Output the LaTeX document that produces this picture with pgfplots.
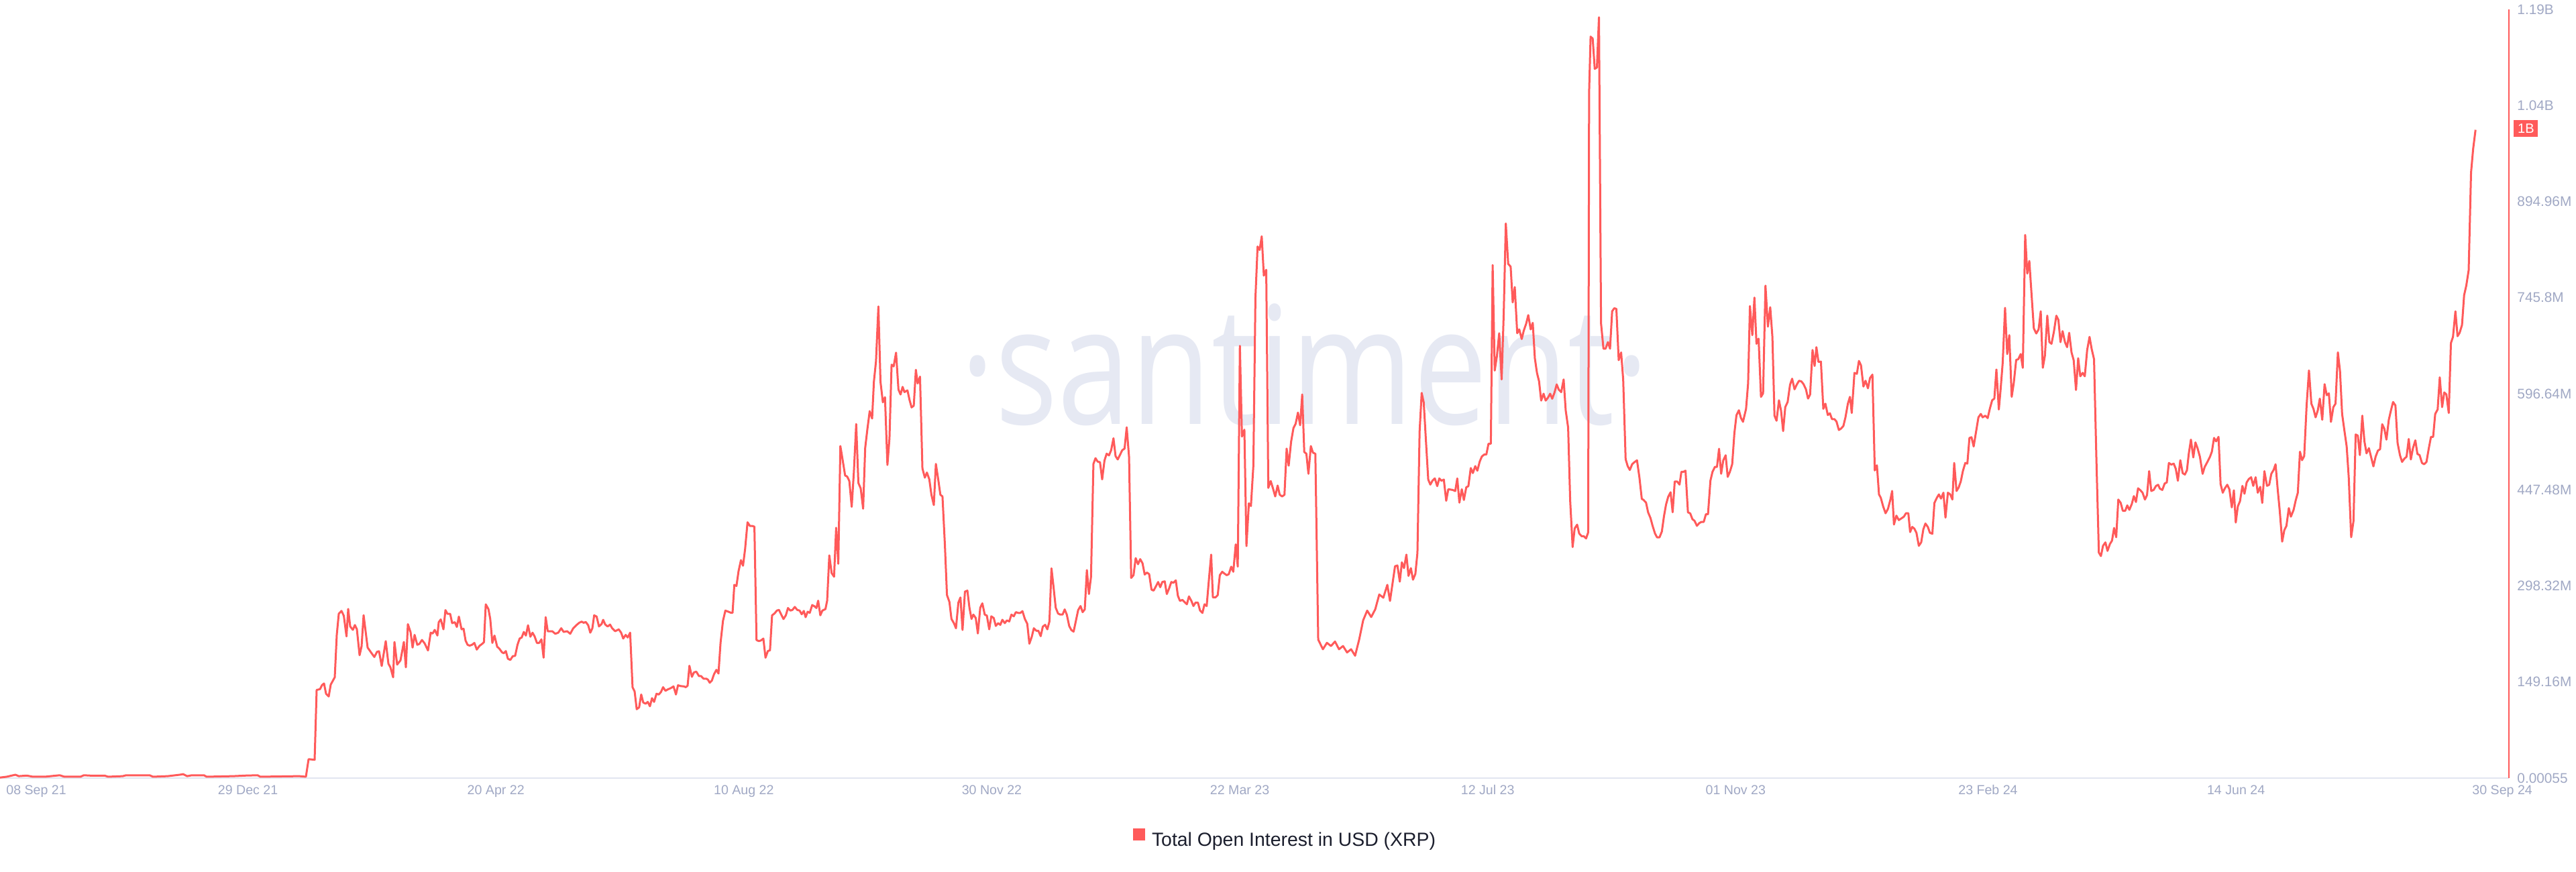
\documentclass[border=0pt]{standalone}
\usepackage{pgfplots}
\pgfplotsset{compat=1.18}
\usepackage{pgfplotstable}
\usepackage{fontspec}
\setmainfont{Liberation Sans}
\newfontfamily\wmfont{Open Sans}

\definecolor{oiRed}{HTML}{FF5A5A}
\definecolor{tickGray}{HTML}{A0A8C4}
\definecolor{baseGray}{HTML}{E1E5F0}
\definecolor{wmGray}{HTML}{E6E9F3}
\definecolor{legendText}{HTML}{1B1E2D}

% x = position along the time axis (3.3 per day from 08 Sep 21), y = open interest in M USD
\pgfplotstableread{
x y
0 0.8
10 2.1
23 5.2
28 3
40 3.9
49 2.1
67 2.1
89 4.4
96 2.1
120 2.1
125 4.4
134 3.9
156 3.9
161 2.1
183 3
188 4.4
223 4.4
228 2.1
250 3
268 5.2
273 6.1
279 3
286 4.4
304 4.4
308 2.1
348 3
366 3.9
384 4.4
388 2.1
446 3
456 2.1
460 29.4
469 28.4
472 136.8
477 138.1
480 144.3
483 146.9
486 131
490 126.7
493 145.1
499 156.5
502 222.3
505 255
509 259.5
512.5 252
516.5 220
519 262.6
522 235.4
526 230.1
529 237.6
532 231
536 190.7
539 204.7
542 252.9
548 202.6
554 193.7
558 188
562 196
565 196.9
569 174
575 212.6
579 177.5
582 171.9
586 156.5
588 211.3
592 176.2
597 182.8
602 211.3
605 171.9
608 238.9
612 226.6
615 202.6
618 222.3
622 206.9
625 208.2
629 214.4
633 209.1
638 198.1
642 225.7
645 224.5
648 230.1
652 221.3
654 242
657 246.3
661 231
664 260.8
667 255
671 255
674 240.6
678 242
681 234.6
684 250.7
688 231
691 231.9
694 213.5
697 206.9
700 205.6
703.6 206.9
707.1 209.8
710.7 199.5
714.7 205.2
718.3 208
721.4 210.9
724.1 269.7
728.1 262.3
730.8 246.9
733.9 209.8
737.1 221.2
741.1 204
744.2 201.1
748.2 195.4
750.9 193.7
754 197.2
757.1 185.2
760.7 183.4
764.3 189.2
767.9 189.8
771.4 206.9
774.6 216.6
777.7 218.3
780.8 226.9
783.9 221.2
787.1 237.2
790.6 219.5
793.8 225.7
796.9 220
800.4 209.8
803.6 209.8
807.1 215.4
810.3 186.9
813.4 249.8
816.5 228
823.2 228
827.7 224
832.1 225.7
836.6 232.6
840.2 226.9
845.5 228
850 224
854.5 232.6
858.9 237.2
863.4 241.1
867 242.9
870.1 241.1
873.2 242.3
876.8 237.2
879.9 225.7
883 232.6
885.7 252.7
889.3 250.8
892.9 235.4
896.9 239.5
899.1 245.7
902.2 238.3
905.8 235.4
909.4 238.3
912.5 232.6
917 228
922.3 230.9
925.9 225.7
929 216.6
932.6 222.3
935.7 218.3
939.3 225.7
942.9 141.1
946 134.4
949.1 106.9
952.7 109.8
955.8 129.8
958.9 117.2
962.5 115.5
965.6 118.3
968.8 111.5
971.9 124.1
975 118.3
978.6 130.9
982.1 129.8
985.3 133.7
988.4 141.1
992 135.5
995.5 137.7
999.6 139.5
1004 142.3
1007.6 129.8
1010.7 144.1
1014.3 142.9
1019.6 142.3
1022.3 141.1
1025 143.5
1027.7 174.3
1031.3 157.2
1034.4 164
1037.9 165.2
1042 158.3
1045.1 158.3
1048.7 154.3
1053.1 154.3
1055.4 152.6
1058 148
1061.2 151.4
1064.3 161.1
1067.9 168
1071 162.3
1074.1 209.8
1077.7 244
1081.3 260
1085.7 258.3
1089.7 256.6
1092 256.6
1094.6 300
1097.8 298.3
1100.9 321.1
1104.5 338.3
1107.6 329.7
1110.7 355.4
1114.3 397.1
1117.9 391.4
1121.4 391.4
1124.6 390.3
1127.7 214.3
1131.3 212.6
1134.4 213.7
1137.9 216.6
1141.1 186.9
1144.6 197.2
1147.8 198.3
1150.9 252.7
1154.5 255.5
1158 260
1161.2 261.1
1164.3 254.3
1167.9 246.9
1171.4 252.7
1174.6 264
1178.1 260
1181.3 261.1
1184.8 265.7
1188.4 261.1
1192 260
1195.1 254.3
1198.2 259.5
1200.9 249.8
1204 258.3
1207.1 256.6
1210.7 268.6
1213.8 266.9
1217 264
1219.6 275.4
1222.8 252.7
1225.9 260
1230.4 262.3
1233 275.4
1236.2 345.7
1239.7 318.3
1243.3 312.6
1246.4 388.6
1249.6 332.6
1252.7 515.4
1256.3 492.5
1259.8 469.7
1262.9 468
1266.1 461.1
1269.6 421.1
1272.8 475.4
1276.3 549.6
1279.5 458.2
1283 449.7
1286.6 418.2
1289.7 512.5
1292.9 541.1
1296.4 569.6
1300 558.2
1302.7 615.2
1305.8 647
1309.4 732.1
1312.5 615.2
1316.1 583.3
1319.2 591.3
1322.8 486
1325.9 527.5
1329 641.7
1332.1 639.1
1335.7 660.4
1339.3 603
1342.4 595.5
1345.5 607.3
1348.2 599.2
1352.7 601.9
1355.8 587
1358.9 575.4
1362.1 578
1365.2 633.8
1367.9 612.6
1371.4 623.2
1375 480.7
1378.6 466.4
1381.7 474.3
1385.3 463.7
1388.4 439.9
1392 423.8
1395.1 487.7
1398.7 462.7
1401.8 439.9
1404.9 437.2
1408.5 362.8
1411.6 284.1
1415.2 273.5
1418.3 247
1421.9 240.5
1425 232.6
1428.6 272.4
1431.7 280.4
1434.8 229.9
1438.4 289.5
1442 291
1445.1 264.5
1448.2 247
1450.9 253.8
1454.5 248.5
1457.6 224.6
1461.2 264.5
1464.3 271.3
1467.9 253.8
1471 252.3
1474.6 230.9
1477.7 251.1
1481.3 248.5
1484.4 236.2
1487.9 240.5
1491.1 237.9
1494.2 245.8
1497.8 240.5
1500.9 244.8
1504.5 243.2
1507.6 253.8
1511.2 251.1
1514.3 257.6
1517.9 256.4
1521 256.4
1524.1 259.2
1527.7 247
1531.3 239.5
1534.4 208.6
1538 219.3
1541.1 232.6
1544.6 228.8
1547.8 228.8
1551.3 220.3
1554.5 235.2
1558 237.9
1561.2 230.9
1564.3 243.2
1567.4 325.6
1570.5 296.3
1573.7 264.5
1577.2 255.4
1580.4 253.8
1583.9 253.8
1587.1 261.8
1590.2 253.8
1593.8 236.2
1596.9 229.9
1600.4 227.3
1603.6 243.2
1607.1 260.7
1610.7 267.1
1613.8 257.6
1617 261.8
1620.1 322.9
1623.2 285.7
1626.3 312.3
1629.9 487.7
1633 496.6
1636.2 491.3
1639.7 490.3
1642.9 463.7
1646.4 493
1649.6 503.6
1653.1 500.9
1656.3 508.9
1659.8 527.5
1662.9 499.9
1666.1 494.6
1669.6 502
1672.8 508.9
1676.3 511.5
1679.5 544.5
1683 498.3
1686.2 310.7
1689.7 315
1692.9 341.5
1696.4 332
1699.6 339.9
1703.1 333.5
1706.3 316
1709.8 319.1
1713 316.5
1716.5 292.6
1719.6 291
1723.2 297.9
1726.3 304.4
1729.5 296.3
1732.6 304.4
1736.2 305.4
1739.3 285.7
1742.9 294.8
1746 304.4
1749.1 303.2
1752.7 307
1755.8 283
1758.9 275.1
1762.5 276.6
1765.6 273.5
1769.2 269.8
1772.3 282
1775.9 275.1
1779 267.1
1782.1 272.4
1785.7 272.4
1788.8 260.2
1792.4 256.4
1795.5 269.8
1798.7 267.1
1802.2 309.7
1805.4 346.9
1808 280.4
1811.6 280.4
1815.2 284.1
1818.3 315
1821.9 320.3
1825 317.6
1828.6 315
1831.7 316.5
1835.3 328.2
1838.4 320.3
1842 362.8
1845.1 328.2
1848.2 671
1851.3 530.2
1854.9 540.8
1858 360.1
1861.6 426.5
1864.7 422.3
1868.3 485
1871.4 745.4
1874.6 825.1
1877.7 819.8
1880.8 841.1
1883.9 780
1887.5 789
1890.6 450.5
1894.2 461.1
1897.3 450.5
1900.9 437.2
1904.5 454.1
1907.6 439.9
1911.2 437.2
1914.7 439.9
1917.9 511.5
1921 485
1924.6 522.2
1928.1 543.4
1931.3 549.9
1934.8 567.4
1938 547.7
1941.1 595.5
1944.2 506.2
1947.3 503.6
1950.4 472.4
1954 515.4
1957.1 505.3
1960.7 503.4
1965 215
1972 200
1978 210
1984 205
1990 212
1996 200
2002 205
2008 195
2014 200
2020 190
2026 215
2032 245
2038 260
2044 250
2050 262
2056 285
2062 280
2068 300
2072 275
2079.5 328.8
2083 330.1
2086.6 305
2089.7 334.9
2092.9 325.9
2096.4 346.9
2099.6 313.9
2103.1 325.9
2106.3 308
2109.8 317
2112.9 349.8
2116.1 538.1
2119.2 597.9
2122.3 583
2125.4 526.2
2129 463.4
2132.1 455.6
2135.3 461.6
2138.8 465.2
2142.4 453.2
2145.5 465.2
2148.7 461.6
2152.2 463.4
2155.8 430.5
2158.9 448.4
2165.6 447.3
2169.2 445.5
2172.3 465.2
2175.4 427.6
2179 448.4
2182.1 431.7
2185.7 451.4
2188.8 453.2
2192.4 481.3
2195.5 473.5
2199.1 484.3
2202.2 477.2
2205.8 491.5
2208.9 499.2
2212.5 502.3
2215.6 502.3
2218.8 519
2222.3 519
2225 796.4
2228.1 632.6
2231.3 654.8
2234.8 690.6
2238.4 618.8
2241.5 720.5
2244.6 861
2248.2 798.2
2251.8 794
2254.9 738.4
2258 762.3
2261.6 690.6
2264.7 696.5
2268.3 681.6
2271.4 694.7
2275 705.6
2278.1 718.7
2281.7 696.5
2284.8 706.7
2287.9 651.7
2291.1 629
2294.2 615.9
2297.3 586
2300.9 596.7
2304 586
2307.6 590.7
2310.7 596.7
2313.8 588.9
2317 597.9
2320.5 611.1
2323.7 602.7
2327.2 599.1
2330.8 618.8
2333.9 571
2337.5 544.1
2340.6 430.5
2344.2 358.7
2347.3 387.5
2350.9 393.4
2354 379.7
2357.6 375.5
2360.7 375.5
2364.3 372
2367.4 381.5
2368.8 1064
2371 1151
2374.1 1148
2377.2 1101
2380.4 1103
2383.5 1181
2386.6 705.6
2390.2 666.6
2393.3 666.6
2396.9 676.8
2400 666.6
2403.1 724.6
2406.3 729.4
2409.4 728.3
2412.9 648.7
2416.5 660.7
2419.6 618.8
2423.2 495.1
2426.3 484.3
2429.5 478.3
2433 487.3
2436.2 490.3
2440.2 493.3
2443.8 466.4
2447.3 433.5
2450 431.7
2453.6 427.6
2456.7 412.6
2460.3 403.6
2463.4 391.6
2467 379.7
2470.1 373.7
2473.7 373.7
2477.2 382.7
2480.4 406.6
2483.5 424.6
2486.6 436.5
2490.2 443.7
2493.3 412.6
2496.4 460.4
2500 460.4
2503.6 455.6
2506.3 475.4
2509.4 475.4
2512.5 477.2
2516.1 412.6
2519.6 410.8
2522.8 401.8
2525.9 399.5
2529.5 391.6
2533 395.8
2536.2 397.7
2539.7 397.7
2542.9 409.6
2546 409.6
2549.6 461.6
2552.7 475.4
2556.3 483.1
2559.4 483.1
2562.5 511.2
2565.6 472.4
2568.8 493.3
2572.3 501.1
2575.4 467.6
2578.6 475.4
2582.1 487.3
2585.3 535.2
2588.4 563.2
2592 571
2595.1 559
2598.2 553.1
2602.7 573.2
2605.8 613.1
2608.5 732.7
2612.1 687.5
2615.2 745.9
2618.3 674.2
2621.4 682.1
2625 591.8
2628.1 597.2
2631.7 764.5
2635.3 700.8
2638.8 731
2642 684.9
2645.1 562.6
2648.2 554.7
2651.8 586.5
2654.9 570.6
2658 538.7
2661.2 575.9
2664.7 583.8
2668.3 610.4
2671.4 620
2675 603.5
2678.1 610.4
2681.7 616.8
2685.3 615.7
2688.4 611.5
2692 603.5
2695.1 589.1
2698.2 595.5
2701.8 664.6
2704.9 639.7
2707.6 668.9
2710.7 646
2714.3 646.5
2717.9 573.2
2721 581.2
2724.6 563.6
2727.7 566.3
2730.8 557.3
2734.4 557.3
2737.5 553.5
2741.1 540.3
2744.2 542.4
2747.8 546.6
2750.9 560
2754.5 581.2
2757.6 591.8
2760.3 566.8
2764.3 629
2767.9 627.5
2771 647.6
2774.1 640.7
2777.7 607.8
2780.8 616.8
2784.4 605.1
2787.5 621
2791.1 626.3
2794.6 477.6
2797.8 485.5
2800.9 440.4
2803.6 435.1
2807.1 421.7
2810.7 411.1
2814.3 418
2817.9 432.4
2820.5 445.7
2823.2 393.6
2826.8 407.4
2830.4 400.5
2834.4 403.2
2838 405.8
2841.1 411.1
2844.6 411.1
2847.3 381.9
2850.4 389.9
2853.6 387.2
2856.7 380.8
2860.3 360.6
2863.8 365.9
2867 386.1
2870.1 395.2
2873.7 389.9
2876.8 380.8
2880.4 379.2
2883.5 427.1
2887.1 435.1
2890.2 440.4
2893.3 433.9
2896.9 443
2900 404.3
2903.6 443
2907.1 440.4
2910.3 432.4
2913 489.2
2916.5 445.7
2919.6 451
2922.8 460.6
2925.9 476.5
2929.5 489.2
2932.6 488.2
2935.7 528
2938.8 529.1
2942 514.8
2945.5 537
2949.1 560
2952.7 565.3
2955.4 560
2959.4 562.6
2962.9 558.8
2966.1 573.2
2969.6 586.5
2972.8 589.1
2975.9 634.3
2979.5 572.2
2982.1 602.5
2985.3 645
2988.8 730
2992 658.2
2995.1 687.5
2998.7 591.8
3001.8 613.1
3005.4 649.2
3008.5 650.3
3012.1 658.2
3015.2 636.9
3018.8 843.2
3021.9 783.1
3025 802.8
3028.1 753.9
3031.7 698.1
3035.3 690.2
3038.8 696.5
3042 724.6
3045.1 636.9
3048.2 655.6
3051.8 717.8
3054.9 676.8
3058 674.2
3061.6 692.8
3065.2 717.8
3068.3 711.4
3071.4 676.8
3074.6 693.8
3078.1 676.8
3081.3 668.9
3084.4 691.2
3087.9 660.9
3091.1 648.7
3094.6 602.5
3097.8 651.8
3100.9 623.7
3104.5 629
3107.6 623.7
3111.2 664.6
3114.7 684.9
3117.9 666.2
3121.4 650.3
3125 493.5
3128.6 350
3131.7 344.7
3134.8 360.6
3138.4 365.9
3141.5 352.7
3145.1 363.3
3148.2 368.6
3151.3 388.3
3154.5 373.9
3157.6 432.4
3161.2 427.1
3164.3 414.9
3167.9 414.9
3171 423.3
3174.1 416.4
3177.7 425.5
3180.8 437.7
3183.9 428.6
3187.1 449.9
3190.6 446.7
3193.8 443
3197.3 432.4
3200.4 439.2
3203.6 476.5
3206.7 445.7
3210.3 447.3
3213.8 453.6
3217 455.3
3219.6 449.3
3223.2 447.3
3226.8 457.4
3229.9 458.9
3233 489.2
3236.6 486.6
3240.2 488.2
3243.3 480.2
3246.4 461.6
3250 493.5
3253.6 473.3
3256.8 471.2
3259.9 477.6
3262.7 504.1
3265.9 525.4
3269.4 497.8
3272.6 521.1
3275.7 512.1
3279.3 498.8
3283.3 472.3
3286.4 482.9
3290.4 490.8
3294.3 498.8
3297.1 506.7
3300.3 528
3303.4 522.7
3307 529.7
3310.1 456.3
3313.3 443
3316.5 449.9
3320 455.3
3323.2 448.3
3326.8 420.2
3329.9 446.7
3332.7 396.7
3335.8 421.7
3339 429.8
3342.6 453.6
3345.7 441.4
3348.9 458.9
3352.1 464.2
3355.6 467
3358.8 453.6
3362.3 467
3365.5 443
3369.1 452.1
3372.2 427.1
3375.4 476.5
3379.3 453.6
3382.5 455.3
3385.7 472.3
3389.2 478.6
3392 487.2
3395.2 448.3
3398.3 413.8
3401.9 367.1
3405 384.6
3408.2 391.4
3411.8 419.1
3414.9 405.8
3418.9 416.4
3422 430.8
3425.2 443
3428.4 506.7
3431.5 493.5
3434.7 499.9
3438.3 578.5
3441.8 632.8
3445.4 581.2
3448.5 573.2
3451.7 560
3454.9 570.6
3458 589.1
3461.6 556.2
3465.1 611.5
3468.3 594.4
3471.5 597.2
3474.6 553
3478.2 575.9
3481.4 581.2
3484.9 660.9
3488.1 631.6
3491.2 565.3
3494.4 541.3
3498 514.8
3501.1 467
3504.7 373.9
3508.2 398.9
3511.4 533.4
3514.6 531.7
3517.7 501.4
3521.3 562.6
3524.5 522.7
3527.6 504.1
3531.2 512.1
3534.3 498.8
3537.9 483.9
3541.1 498.8
3544.6 508.4
3547.8 510.5
3551 549.3
3554.1 542.4
3557.3 525.4
3560.8 556.2
3564 570.6
3567.2 583.8
3570.7 578.5
3573.9 520.1
3577.4 501.4
3580.6 490.8
3584.2 496.1
3587.3 498.8
3590.5 526.4
3593.7 494.6
3596.8 512.1
3600.4 524.3
3603.5 503.1
3606.7 501.4
3610.3 489.2
3613.4 487.2
3617 490.8
3620.2 510.5
3623.7 529.7
3626.9 529.7
3630 565.3
3633.6 572.2
3636.8 622.1
3640.3 575.9
3643.5 598.7
3646.6 595.5
3650.2 566.8
3653.4 675.3
3656.5 684.9
3660.1 724.6
3663.3 685.9
3666.4 691.2
3670 703.4
3673.1 749.6
3676.3 764.5
3679.9 788.4
3683.4 940
3686.6 977.1
3690.1 1006.3
}\oidata

\begin{document}
\begin{tikzpicture}
\path[use as bounding box] (0pt,-70pt) rectangle (1920pt,580pt);
% watermark
\node[anchor=base, text=wmGray, inner sep=0pt, xscale=0.8,
      font=\wmfont\fontsize{122.5}{130}\selectfont] at (972.5pt,263.5pt) {·santiment·};
\begin{axis}[
  at={(0pt,0pt)}, anchor=south west,
  scale only axis, width=1870pt, height=573pt,
  xmin=0, xmax=1133.3, ymin=0, ymax=1193.28,
  clip=false,
  axis x line*=bottom, axis y line*=right,
  x axis line style={draw=baseGray, line width=1pt, -},
  y axis line style={draw=oiRed, line width=1pt, -},
  major tick length=0pt,
  xtick={16.4,112,224,336,448,560,672,784,898,1010,1130.3},
  xticklabels={08 Sep 21,29 Dec 21,20 Apr 22,10 Aug 22,30 Nov 22,22 Mar 23,12 Jul 23,01 Nov 23,23 Feb 24,14 Jun 24,30 Sep 24},
  xticklabel style={anchor=base, yshift=-12.25pt, inner sep=0pt,
      font=\fontsize{9.8}{11}\selectfont, text=tickGray},
  ytick={0,149.16,298.32,447.48,596.64,745.8,894.96,1044.12,1193.28},
  yticklabels={0.00055,149.16M,298.32M,447.48M,596.64M,745.8M,894.96M,1.04B,1.19B},
  yticklabel style={anchor=west, xshift=6pt, inner sep=0pt,
      font=\fontsize{10.4}{12}\selectfont, text=tickGray},
  legend style={at={(0.4516,-0.0784)}, anchor=west, draw=none, fill=none,
      inner sep=0pt, outer sep=0pt, nodes={inner sep=0pt},
      font=\fontsize{14.2}{16}\selectfont, text=legendText},
  legend image code/.code={
      \fill[oiRed, draw=none] (0pt,0pt) rectangle (9pt,9pt);
      \path[draw=none, fill=none] (0pt,0pt) rectangle (14pt,9pt);},
]
\addplot[oiRed, line width=1.5pt, line join=round]
  table[x expr=\thisrow{x}/3.3, y=y] {\oidata};
\addlegendentry{Total Open Interest in USD (XRP)}
\node[fill=oiRed, text=white, anchor=west, inner sep=0pt, minimum width=18pt,
      minimum height=12.5pt, xshift=3.5pt, font=\fontsize{10}{12}\selectfont]
  at (axis cs:1133.3,1008.3) {1B};
\end{axis}
\end{tikzpicture}
\end{document}
